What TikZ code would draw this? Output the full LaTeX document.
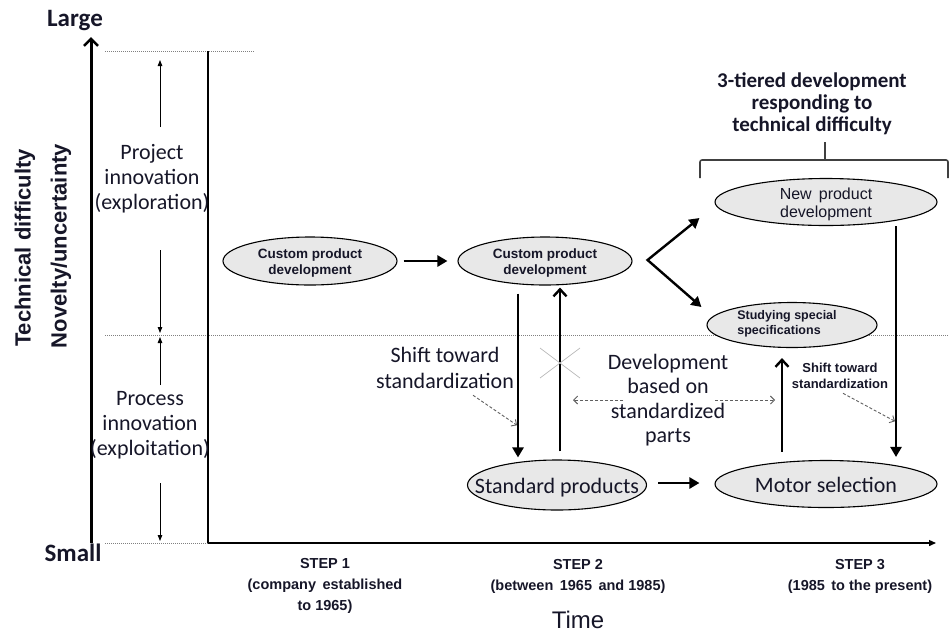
\documentclass[tikz,border=0pt]{standalone}
\usepackage{fontspec}
\setmainfont{Carlito}
\newfontfamily\arialf{Liberation Sans}
\usetikzlibrary{arrows.meta,shapes.geometric,calc}
\definecolor{txt}{RGB}{22,22,40}
\definecolor{ellfill}{RGB}{232,232,232}
\definecolor{dashgray}{RGB}{95,95,95}
\newcommand\ztxt[2][c]{\makebox[0pt]{\smash{\raisebox{-0.42em}{\begin{tabular}{@{}#1@{}}#2\end{tabular}}}}}
\begin{document}
\begin{tikzpicture}[x=1pt,y=-1pt,
  every node/.style={text=txt},
  ell/.style={ellipse, draw=black, line width=1.1pt, fill=ellfill, inner sep=0pt},
  bigarr/.style={line width=2.4pt, -{Triangle[length=10pt,width=11pt]}},
  barbarr/.style={line width=2.4pt, -{Straight Barb[length=7pt,width=13pt,line width=2.4pt]}},
  thinarr/.style={line width=0.9pt, -{Triangle[length=6pt,width=4.5pt]}},
  dasharr/.style={draw=dashgray, line width=0.9pt, dash pattern=on 3pt off 2pt, -{Straight Barb[length=4pt,width=8pt]}},
  dotline/.style={draw=gray, line width=0.8pt, dash pattern=on 1pt off 1pt},
  calib/.style={align=center, font=\fontsize{22}{25}\selectfont},
  steptext/.style={align=center, font=\arialf\bfseries\fontsize{14.5}{21}\selectfont}
  ]
\useasboundingbox (0,0) rectangle (949,633);

% axis labels
\node[font=\bfseries\fontsize{25}{28}\selectfont] (large) at (75,21) {Large};
\node[font=\bfseries\fontsize{25}{28}\selectfont] (small) at (73,553) {Small};
\node[rotate=90, font=\arialf\bfseries\fontsize{22}{24}\selectfont] (tech) at (25,248) {Technical difficulty};
\node[rotate=90, font=\arialf\bfseries\fontsize{22}{24}\selectfont] (nov) at (61,246) {Novelty/uncertainty};

% vertical axis
\coordinate (yb) at (91,543);
\coordinate (yt) at (91,37);
\draw[line width=3pt, -{Straight Barb[length=7pt,width=14pt,line width=2.6pt]}] (yb) -- (yt);

% dotted guide lines
\draw[dotline] (105,51) -- (255,51);
\draw[dotline] (105,543) -- (208,543);
\draw[dotline] (105,335) -- (949,335);

% frame and time axis
\coordinate (ft) at (208,51);
\coordinate (fc) at (208,543);
\coordinate (fe) at (936,543);
\draw[line width=1.3pt] (ft) -- (fc);
\draw[line width=1.3pt, -{Triangle[length=7pt,width=6pt]}] (fc) -- (fe);

% left column
\node[calib] (proj) at (152,179) {Project\\innovation\\(exploration)};
\node[calib] (proc) at (150,425) {Process\\innovation\\(exploitation)};
\draw[thinarr] ($(proj.center)+(8,-52)$) -- ($(proj.center)+(8,-119)$);
\draw[thinarr] ($(proj.center)+(8,71)$) -- ($(proj.center)+(8,154)$);
\draw[thinarr] ($(proc.center)+(10,-40)$) -- ($(proc.center)+(10,-88)$);
\draw[thinarr] ($(proc.center)+(10,58)$) -- ($(proc.center)+(10,116)$);

% ellipses
\node[ell, minimum width=174pt, minimum height=48pt, font=\arialf\bfseries\fontsize{13.5}{16}\selectfont] (c1) at (310,261) {\ztxt{Custom product\\development}};
\node[ell, minimum width=174pt, minimum height=48pt, font=\arialf\bfseries\fontsize{13.5}{16}\selectfont] (c2) at (545,261) {\ztxt{Custom product\\development}};
\node[ell, minimum width=179pt, minimum height=50pt, font=\fontsize{22}{24}\selectfont] (std) at (557,485) {\ztxt{Standard products}};
\node[ell, minimum width=222pt, minimum height=47pt, font=\arialf\fontsize{16}{18}\selectfont] (newp) at (826,202) {\ztxt{New\, product\\development}};
\node[ell, minimum width=170pt, minimum height=45pt, font=\arialf\bfseries\fontsize{12.5}{15}\selectfont] (stud) at (792,325) {\makebox[0pt]{\raisebox{6pt}{\ztxt[l]{Studying special\\specifications}}\hspace{10pt}}};
\node[ell, minimum width=222pt, minimum height=47pt, font=\fontsize{22}{24}\selectfont] (motor) at (826,484) {\ztxt{Motor selection}};

% connectors
\draw[bigarr] ($(c1.east)+(6,0)$) -- ($(c2.west)+(-10,0)$);
\draw[bigarr] ($(c2.south)+(-27,8)$) -- ($(std.north)+(-39,-2)$);
\draw[barbarr] ($(std.north)+(3,-8)$) -- ($(c2.south)+(15,2)$);
\draw[bigarr] ($(std.east)+(11,-2)$) -- ($(motor.west)+(-15,-1)$);
\coordinate (vx) at ($(c2.east)+(15,-1)$);
\draw[line width=2.4pt, {Triangle[length=10pt,width=11pt]}-{Triangle[length=10pt,width=11pt]}]
  ($(newp.west)+(-15,16)$) -- (vx) -- ($(stud.west)+(-5,-18)$);
\draw[bigarr] ($(newp.south)+(70,0)$) -- ($(motor.north)+(70,-3)$);
\draw[barbarr] ($(motor.north)+(-44,-8)$) -- ($(stud.south)+(-10,10)$);

% crossed-out mark
\draw[line width=0.7pt, draw=gray!55] (540,348) -- (580,378) (540,378) -- (580,348);

% annotations
\node[align=center, font=\fontsize{22}{26}\selectfont] (s1) at (445,368) {Shift toward\\standardization};
\draw[dasharr] ($(s1.south)+(28,3)$) -- ($(s1.south)+(72,33)$);
\node[align=center, font=\fontsize{22}{24.5}\selectfont] (dev) at (668,400) {Development\\based on\\standardized\\parts};
\draw[dasharr] ($(dev.center)+(-45,0)$) -- ($(dev.center)+(-95,0)$);
\draw[dasharr] ($(dev.center)+(47,0)$) -- ($(dev.center)+(107,0)$);
\node[align=center, font=\arialf\bfseries\fontsize{13}{16}\selectfont] (s2) at (840,376) {Shift toward\\standardization};
\draw[dasharr] ($(s2.south)+(3,1)$) -- ($(s2.south)+(55,29)$);

% brace and heading
\node[align=center, font=\bfseries\fontsize{21}{22}\selectfont] (tier) at (812,104) {3-tiered development\\responding to\\technical difficulty};
\draw[line width=1.6pt, draw=black!75, rounded corners=2pt] (700,178) -- (700,160) -- (948,160) -- (948,178);
\draw[line width=1.6pt, draw=black!75] (825,160) -- (825,142);

% time axis labels
\node[steptext] (st1) at (325,586) {STEP 1\\(company\, established\\to 1965)};
\node[steptext] (st2) at (578,576) {STEP 2\\(between\, 1965\, and 1985)};
\node[steptext] (st3) at (860,576) {STEP 3\\(1985\, to the present)};
\node[font=\arialf\fontsize{24}{26}\selectfont] (time) at (578,620) {Time};
\end{tikzpicture}
\end{document}
